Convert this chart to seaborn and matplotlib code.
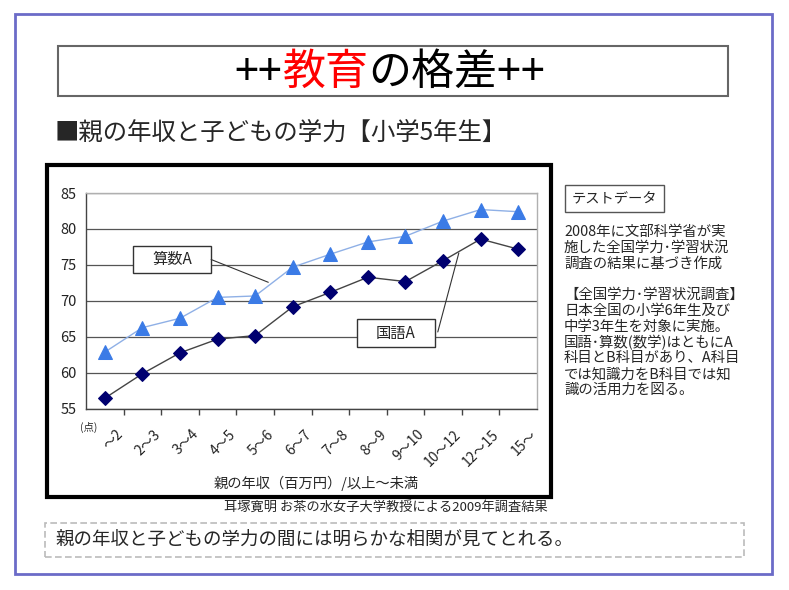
import numpy as np
import pandas as pd
import matplotlib
matplotlib.use("Agg")
import matplotlib.pyplot as plt
import matplotlib.patches as patches
from matplotlib.transforms import ScaledTranslation
import seaborn as sns

# income brackets (million yen) and average scores
categories = ["～2", "2～3", "3～4", "4～5", "5～6", "6～7", "7～8",
              "8～9", "9～10", "10～12", "12～15", "15～"]
math_a = [62.9, 66.3, 67.6, 70.5, 70.7, 74.7, 76.5, 78.2, 79.0, 81.1, 82.7, 82.4]
japanese_a = [56.5, 59.9, 62.8, 64.7, 65.2, 69.2, 71.2, 73.3, 72.7, 75.6, 78.6, 77.2]
y_ticks = [55, 60, 65, 70, 75, 80, 85]

title_parts = [("++", "black"), ("教育", "#ff0000"), ("の格差++", "black")]
subtitle = "■親の年収と子どもの学力【小学5年生】"
x_title = "親の年収（百万円）/以上～未満"
unit_label = "(点)"
source = "耳塚寛明 お茶の水女子大学教授による2009年調査結果"
conclusion = "親の年収と子どもの学力の間には明らかな相関が見てとれる。"
note_head = "テストデータ"
note_lines = [
    "2008年に文部科学省が実",
    "施した全国学力･学習状況",
    "調査の結果に基づき作成",
    "",
    "【全国学力･学習状況調査】",
    "日本全国の小学6年生及び",
    "中学3年生を対象に実施。",
    "国語･算数(数学)はともにA",
    "科目とB科目があり、A科目",
    "では知識力をB科目では知",
    "識の活用力を図る。",
]

sns.set_theme(style="white")
plt.rcParams["font.family"] = ["Noto Sans CJK JP", "DejaVu Sans"]

W, H = 789, 590
fig = plt.figure(figsize=(W / 100, H / 100), dpi=100)
fig.patch.set_facecolor("white")


def fx(x):
    return x / W


def fy(y):
    return 1 - y / H


def frame(x0, y0, x1, y1, **kw):
    fig.add_artist(patches.Rectangle((fx(x0), fy(y1)), fx(x1) - fx(x0), fy(y0) - fy(y1),
                                     transform=fig.transFigure, fill=False, **kw))


# slide frame, title box, chart frame, conclusion box, note header box
frame(15, 14, 772, 574, edgecolor="#6b6bc8", lw=2)
frame(58, 46, 728, 96, edgecolor="#666666", lw=1.5)
frame(47, 165, 551, 497, edgecolor="black", lw=3)
frame(45, 523, 744, 557, edgecolor="#bbbbbb", lw=1.2, linestyle=(0, (4, 2)))
frame(565, 185, 664, 212, edgecolor="#555555", lw=1)

# title: chain the parts so each one starts where the previous ends
overlay = fig.add_axes([0, 0, 1, 1], frameon=False)
overlay.set_axis_off()
chain = overlay.annotate(title_parts[0][0], xy=(fx(234), fy(73)), xycoords="figure fraction",
                         color=title_parts[0][1], fontsize=31, ha="left", va="center")
for txt, col in title_parts[1:]:
    chain = overlay.annotate(txt, xy=(1, 0.5), xycoords=chain, color=col,
                             fontsize=31, ha="left", va="center")

fig.text(fx(55), fy(133), subtitle, fontsize=17.6, ha="left", va="center")
fig.text(fx(386), fy(508), source, fontsize=9.5, ha="center", va="center")
fig.text(fx(55), fy(540), conclusion, fontsize=13.3, ha="left", va="center")
fig.text(fx(614), fy(198), note_head, fontsize=10.3, ha="center", va="center")
for i, line in enumerate(note_lines):
    fig.text(fx(564), fy(232 + i * 15.8), line, fontsize=10.4, ha="left", va="center")
fig.text(fx(316), fy(483), x_title, fontsize=10.3, ha="center", va="center")
fig.text(fx(80), fy(427), unit_label, fontsize=7.5, ha="left", va="center")

# main chart
ax = fig.add_axes([fx(86), fy(409), fx(537) - fx(86), fy(193) - fy(409)])
df = pd.DataFrame({"bracket": categories, "math": math_a, "japanese": japanese_a})
sns.lineplot(data=df, x="bracket", y="math", ax=ax, sort=False, color="#8fb0e6", lw=1,
             marker="^", markersize=10, markerfacecolor="#3b7be6", markeredgecolor="#3b7be6", zorder=4)
sns.lineplot(data=df, x="bracket", y="japanese", ax=ax, sort=False, color="#444444", lw=1,
             marker="D", markersize=7, markerfacecolor="#000070", markeredgecolor="#000070", zorder=4)

ax.set_xlim(-0.5, len(categories) - 0.5)
ax.set_ylim(y_ticks[0], y_ticks[-1])
ax.set_yticks(y_ticks)
ax.set_xlabel("")
ax.set_ylabel("")
ax.yaxis.grid(True, color="#555555", lw=0.9)
ax.set_axisbelow(True)
for side in ("top", "right"):
    ax.spines[side].set_color("#b0b0b0")
    ax.spines[side].set_linewidth(1)
for side in ("left", "bottom"):
    ax.spines[side].set_color("#444444")
    ax.spines[side].set_linewidth(1)
ax.tick_params(axis="y", length=0, pad=7, labelsize=10.5, labelcolor="#222222")
ax.set_xticks(np.arange(len(categories)))
ax.set_xticks(np.arange(len(categories) - 1) + 0.5, minor=True)
ax.tick_params(axis="x", which="major", length=0, pad=13, labelsize=10, labelcolor="#222222")
ax.tick_params(axis="x", which="minor", length=4, width=1, color="#444444", direction="out", bottom=True)
ax.set_xticklabels(categories, rotation=45, ha="right", va="top", rotation_mode="anchor")
shift = ScaledTranslation(8 / 72, 0, fig.dpi_scale_trans)
for lab in ax.get_xticklabels():
    lab.set_transform(lab.get_transform() + shift)

# callout boxes with leader lines
ax.add_patch(patches.Rectangle((0.75, 73.9), 2.08, 3.75, facecolor="white",
                               edgecolor="#333333", lw=1, zorder=5))
ax.text(1.79, 75.78, "算数A", fontsize=11, ha="center", va="center", zorder=6)
ax.plot([2.83, 4.35], [75.76, 72.6], color="#333333", lw=0.8, zorder=5)
ax.add_patch(patches.Rectangle((6.7, 63.6), 2.08, 3.9, facecolor="white",
                               edgecolor="#333333", lw=1, zorder=5))
ax.text(7.74, 65.55, "国語A", fontsize=11, ha="center", va="center", zorder=6)
ax.plot([8.86, 9.42], [65.7, 76.67], color="#333333", lw=0.8, zorder=5)

fig.savefig("out.png", dpi=100, facecolor="white")
